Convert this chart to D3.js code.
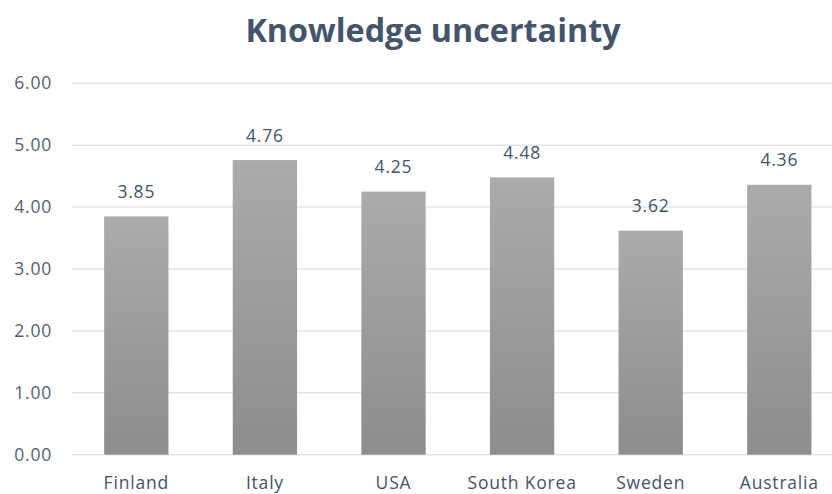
<!doctype html>
<html lang="en">

<head>
    <meta charset="utf-8">
    <title>Knowledge uncertainty</title>
    <script src="https://cdn.jsdelivr.net/npm/d3@7"></script>
    <style>
        body { margin: 0; background: #fff; }
        text { font-family: "Open Sans", sans-serif; }
    </style>
</head>

<body>
    <script>
        // chart data
        var countries = ["Finland", "Italy", "USA", "South Korea", "Sweden", "Australia"];
        var scores = [3.85, 4.76, 4.25, 4.48, 3.62, 4.36];
        var yTicks = [0, 1, 2, 3, 4, 5, 6];

        var width = 832, height = 494;

        var svg = d3.select("body").append("svg")
            .attr("width", width)
            .attr("height", height);

        // gradient for bars, lighter on top
        var grad = svg.append("defs").append("linearGradient")
            .attr("id", "barGrad")
            .attr("x1", 0).attr("y1", 0).attr("x2", 0).attr("y2", 1);
        grad.append("stop").attr("offset", "0%").attr("stop-color", "#ababab");
        grad.append("stop").attr("offset", "100%").attr("stop-color", "#8d8d8d");

        var x = d3.scaleBand()
            .domain(countries)
            .range([72, 843.6])
            .paddingInner(0.5)
            .paddingOuter(0.25);

        var y = d3.scaleLinear()
            .domain([0, 6])
            .range([454.7, 83.3]);

        // title
        svg.append("text")
            .attr("x", 433)
            .attr("y", 42)
            .attr("text-anchor", "middle")
            .attr("font-size", "32.3px")
            .attr("font-weight", "bold")
            .attr("fill", "#44546a")
            .text("Knowledge uncertainty");

        // gridlines
        svg.append("g")
            .selectAll("line")
            .data(yTicks)
            .enter()
            .append("line")
            .attr("x1", 72)
            .attr("x2", width)
            .attr("y1", function(d) { return y(d); })
            .attr("y2", function(d) { return y(d); })
            .attr("stroke", "#e1e5eb")
            .attr("stroke-width", 1.5);

        // y axis labels
        var yAxis = d3.axisLeft(y)
            .tickValues(yTicks)
            .tickFormat(d3.format(".2f"))
            .tickSize(0)
            .tickPadding(0);
        var gy = svg.append("g")
            .attr("transform", "translate(52,0)")
            .call(yAxis);
        gy.select(".domain").remove();
        gy.selectAll("text")
            .attr("font-family", "Open Sans, sans-serif")
            .attr("font-size", "17.5px")
            .attr("letter-spacing", "0.8px")
            .attr("fill", "#56606e");

        // bars
        svg.append("g")
            .selectAll("rect")
            .data(scores)
            .enter()
            .append("rect")
            .attr("x", function(d, i) { return x(countries[i]); })
            .attr("y", function(d) { return y(d); })
            .attr("width", x.bandwidth())
            .attr("height", function(d) { return y(0) - y(d); })
            .attr("fill", "url(#barGrad)");

        // value labels
        svg.append("g")
            .selectAll("text")
            .data(scores)
            .enter()
            .append("text")
            .attr("x", function(d, i) { return x(countries[i]) + x.bandwidth() / 2; })
            .attr("y", function(d) { return y(d) - 18.5; })
            .attr("text-anchor", "middle")
            .attr("font-size", "17.5px")
            .attr("letter-spacing", "0.8px")
            .attr("fill", "#44546a")
            .text(function(d) { return d.toFixed(2); });

        // category labels
        var xAxis = d3.axisBottom(x).tickSize(0).tickPadding(0);
        var gx = svg.append("g")
            .attr("transform", "translate(0,477)")
            .call(xAxis);
        gx.select(".domain").remove();
        gx.selectAll("text")
            .attr("font-family", "Open Sans, sans-serif")
            .attr("font-size", "17.5px")
            .attr("letter-spacing", "0.8px")
            .attr("fill", "#44546a");
    </script>
</body>

</html>
